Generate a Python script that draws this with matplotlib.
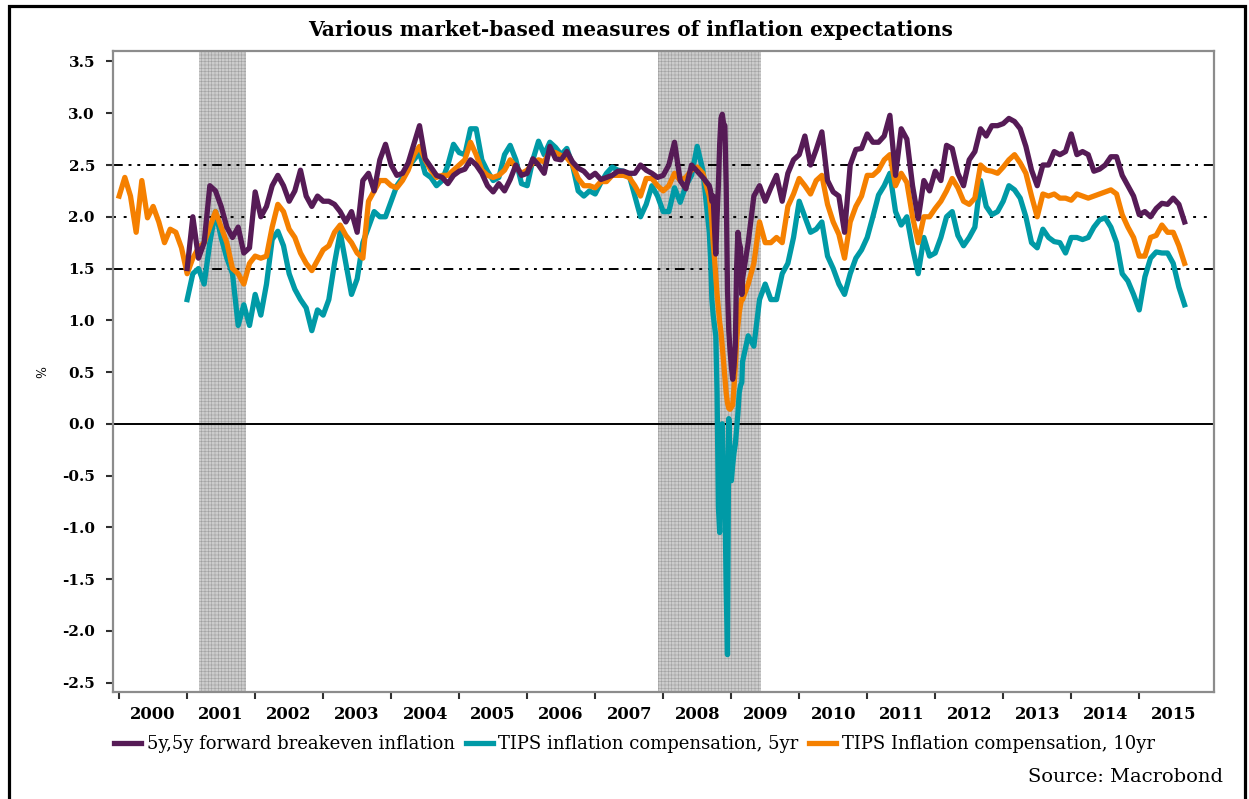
import numpy as np
import pandas as pd
import matplotlib
matplotlib.use('Agg')
import matplotlib.pyplot as plt
from matplotlib.patches import Rectangle

plt.rcParams['font.family'] = 'DejaVu Serif'
plt.rcParams['axes.unicode_minus'] = False
plt.rcParams['hatch.linewidth'] = 0.4

# ---- data (monthly readings, start of month) ----
# TIPS inflation compensation, 10yr : Jan 2000 - Aug 2008
ten_pre = [2.2, 2.38, 2.2, 1.85, 2.35, 1.99, 2.1, 1.95, 1.75, 1.88, 1.85, 1.7,
           1.45, 1.6, 1.7, 1.75, 1.9, 2.05, 1.9, 1.75, 1.5, 1.45, 1.35, 1.55,
           1.62, 1.6, 1.62, 1.9, 2.12, 2.05, 1.88, 1.8, 1.65, 1.55, 1.48, 1.58,
           1.68, 1.72, 1.85, 1.92, 1.82, 1.75, 1.65, 1.6, 2.15, 2.25, 2.35, 2.35,
           2.3, 2.28, 2.35, 2.45, 2.6, 2.68, 2.55, 2.45, 2.38, 2.4, 2.4, 2.45,
           2.5, 2.55, 2.72, 2.6, 2.45, 2.4, 2.38, 2.4, 2.45, 2.55, 2.48, 2.42,
           2.45, 2.52, 2.55, 2.53, 2.63, 2.62, 2.59, 2.57, 2.5, 2.37, 2.3, 2.3,
           2.28, 2.34, 2.34, 2.4, 2.4, 2.4, 2.38, 2.3, 2.2, 2.37, 2.37, 2.3,
           2.25, 2.3, 2.42, 2.35, 2.38, 2.45, 2.48, 2.42]
# Mar 2009 - Sep 2015
ten_post = [1.2, 1.35, 1.55, 1.95, 1.75, 1.75, 1.8, 1.75, 2.1, 2.22,
            2.37, 2.3, 2.22, 2.35, 2.4, 2.12, 1.95, 1.83, 1.6, 1.95, 2.1, 2.2,
            2.4, 2.4, 2.45, 2.55, 2.6, 2.3, 2.42, 2.33, 2.0, 1.75, 2.0, 2.0,
            2.08, 2.15, 2.25, 2.37, 2.28, 2.15, 2.12, 2.18, 2.5, 2.45, 2.44, 2.42,
            2.48, 2.55, 2.6, 2.52, 2.42, 2.2, 2.0, 2.22, 2.2, 2.22, 2.18, 2.18,
            2.16, 2.22, 2.2, 2.18, 2.2, 2.22, 2.24, 2.26, 2.22, 2.02, 1.9, 1.8,
            1.62, 1.62, 1.8, 1.82, 1.92, 1.85, 1.85, 1.72, 1.55]

# 5y,5y forward breakeven inflation : Jan 2001 - Aug 2008
fwd_pre = [1.5, 2.0, 1.6, 1.75, 2.3, 2.25, 2.1, 1.9, 1.8, 1.9, 1.65, 1.7,
           2.24, 2.0, 2.1, 2.3, 2.4, 2.3, 2.15, 2.25, 2.45, 2.2, 2.1, 2.2,
           2.15, 2.15, 2.12, 2.05, 1.95, 2.05, 1.85, 2.35, 2.42, 2.25, 2.55, 2.7,
           2.5, 2.4, 2.42, 2.52, 2.7, 2.88, 2.56, 2.48, 2.4, 2.38, 2.32, 2.4,
           2.44, 2.46, 2.55, 2.5, 2.42, 2.3, 2.24, 2.32, 2.25, 2.36, 2.5, 2.4,
           2.42, 2.56, 2.5, 2.42, 2.68, 2.56, 2.55, 2.63, 2.53, 2.47, 2.44, 2.38,
           2.42, 2.36, 2.38, 2.4, 2.44, 2.44, 2.42, 2.42, 2.5, 2.45, 2.42, 2.38,
           2.4, 2.5, 2.72, 2.35, 2.27, 2.5, 2.44, 2.38]
fwd_post = [1.4, 1.75, 2.2, 2.3, 2.15, 2.28, 2.4, 2.15, 2.42, 2.55,
            2.6, 2.78, 2.5, 2.65, 2.82, 2.35, 2.24, 2.2, 1.85, 2.5, 2.65, 2.66,
            2.8, 2.72, 2.72, 2.78, 2.98, 2.4, 2.85, 2.75, 2.3, 1.98, 2.35, 2.25,
            2.44, 2.35, 2.69, 2.66, 2.42, 2.3, 2.55, 2.63, 2.85, 2.78, 2.88, 2.88,
            2.9, 2.95, 2.92, 2.85, 2.68, 2.45, 2.3, 2.5, 2.5, 2.63, 2.6, 2.63,
            2.8, 2.6, 2.63, 2.6, 2.44, 2.46, 2.5, 2.58, 2.58, 2.4, 2.3, 2.2,
            2.02, 2.05, 2.0, 2.08, 2.13, 2.12, 2.18, 2.12, 1.95]

# TIPS inflation compensation, 5yr : Jan 2001 - Aug 2008
five_pre = [1.2, 1.45, 1.5, 1.35, 1.75, 2.05, 1.8, 1.6, 1.45, 0.95, 1.15, 0.95,
            1.25, 1.05, 1.35, 1.78, 1.86, 1.72, 1.45, 1.3, 1.2, 1.12, 0.9, 1.1,
            1.05, 1.2, 1.55, 1.85, 1.55, 1.25, 1.4, 1.75, 1.9, 2.05, 2.0, 2.0,
            2.15, 2.3, 2.38, 2.48, 2.55, 2.62, 2.42, 2.38, 2.3, 2.35, 2.5, 2.7,
            2.62, 2.6, 2.85, 2.85, 2.55, 2.44, 2.35, 2.38, 2.6, 2.69, 2.55, 2.32,
            2.3, 2.55, 2.73, 2.6, 2.72, 2.67, 2.6, 2.66, 2.5, 2.25, 2.2, 2.25,
            2.22, 2.33, 2.42, 2.48, 2.45, 2.44, 2.4, 2.2, 2.0, 2.12, 2.3, 2.2,
            2.05, 2.05, 2.28, 2.14, 2.3, 2.4, 2.68, 2.45]
five_post = [0.6, 0.85, 0.75, 1.2, 1.35, 1.2, 1.2, 1.45, 1.55, 1.8,
             2.15, 2.0, 1.85, 1.88, 1.95, 1.62, 1.5, 1.35, 1.25, 1.45, 1.6, 1.68,
             1.8, 2.0, 2.21, 2.3, 2.42, 2.05, 1.92, 2.0, 1.7, 1.45, 1.8, 1.62,
             1.65, 1.8, 2.0, 2.05, 1.82, 1.72, 1.8, 1.9, 2.35, 2.1, 2.02, 2.05,
             2.15, 2.3, 2.26, 2.18, 2.0, 1.75, 1.7, 1.88, 1.8, 1.76, 1.75, 1.65,
             1.8, 1.8, 1.78, 1.8, 1.9, 1.97, 1.99, 1.9, 1.75, 1.45, 1.38, 1.25,
             1.1, 1.42, 1.6, 1.66, 1.65, 1.65, 1.55, 1.32, 1.15]

# weekly readings through the 2008 crisis (Sep 5 2008 - Feb 27 2009)
crisis_days = pd.date_range('2008-09-05', periods=26, freq='7D')
ten_crisis = [2.2, 2.1, 1.95, 1.75, 1.6, 1.42, 1.25, 1.12, 0.98, 0.89, 0.75, 0.6, 0.45,
              0.3, 0.2, 0.15, 0.14, 0.16, 0.18, 0.35, 0.55, 0.8, 0.95, 1.07, 1.15, 1.21]
fwd_crisis = [2.3, 2.25, 2.15, 2.2, 1.9, 1.64, 2.0, 2.3, 2.7, 2.95, 2.99, 2.9, 2.88,
              2.3, 1.3, 0.9, 0.7, 0.55, 0.43, 0.55, 0.75, 1.5, 1.85, 1.75, 1.7, 1.25]
five_crisis = [1.85, 1.6, 1.2, 1.05, 0.95, 0.85, 0.3, -0.8, -1.05, -0.3, 0.0, -0.4, -0.7,
               -1.6, -2.23, 0.05, -0.3, -0.55, -0.4, -0.28, -0.2, -0.05, 0.1, 0.3, 0.37, 0.4]

recessions = [(2001.17, 2001.87), (2007.92, 2009.44)]
years = list(range(2000, 2016))


def monthly(year, month, vals):
    return year + (month - 1 + np.arange(len(vals))) / 12.0


def series(start_year, pre, crisis, post):
    days_in_year = np.where(crisis_days.is_leap_year, 366.0, 365.0)
    t_crisis = crisis_days.year + (crisis_days.dayofyear - 1) / days_in_year
    t = np.concatenate([monthly(start_year, 1, pre), np.asarray(t_crisis),
                        monthly(2009, 3, post)])
    v = np.concatenate([pre, crisis, post])
    return t, v


t_ten, v_ten = series(2000, ten_pre, ten_crisis, ten_post)
t_fwd, v_fwd = series(2001, fwd_pre, fwd_crisis, fwd_post)
t_five, v_five = series(2001, five_pre, five_crisis, five_post)

purple = '#561b56'
teal = '#009aa6'
orange = '#f58000'

fig = plt.figure(figsize=(12.49, 7.99), dpi=100)
ax = fig.add_axes([0.0905, 0.134, 0.8815, 0.802])

for a, b in recessions:
    ax.axvspan(a, b, facecolor='#cccccc', edgecolor='#a0a0a0', hatch='+++++',
               lw=0, zorder=0)

ax.axhline(2.5, color='black', lw=1.4, dashes=(5, 3, 1.5, 3, 1.5, 3), zorder=1)
ax.axhline(2.0, color='black', lw=1.4, dashes=(1.5, 4), zorder=1)
ax.axhline(1.5, color='black', lw=1.4, dashes=(5, 3, 1.5, 3, 1.5, 3), zorder=1)
ax.axhline(0.0, color='black', lw=1.4, zorder=1)

l5, = ax.plot(t_five, v_five, color=teal, lw=3.8, zorder=2,
              label='TIPS inflation compensation, 5yr')
l10, = ax.plot(t_ten, v_ten, color=orange, lw=3.8, zorder=3,
               label='TIPS Inflation compensation, 10yr')
lf, = ax.plot(t_fwd, v_fwd, color=purple, lw=3.8, zorder=4,
              label='5y,5y forward breakeven inflation')

ax.set_xlim(1999.91, 2016.10)
ax.set_ylim(-2.59, 3.6)

yt = np.arange(-2.5, 3.51, 0.5)
ax.set_yticks(yt)
ax.set_yticklabels([f'{v:.1f}' for v in yt], fontweight='bold', fontsize=11)
ax.set_xticks(years)
ax.set_xticklabels([])
ax.set_xticks([y + 0.5 for y in years], minor=True)
ax.set_xticklabels([str(y) for y in years], minor=True, fontweight='bold', fontsize=11.8)
ax.tick_params(axis='x', which='major', length=5, width=1.5, color='#303030', direction='out')
ax.tick_params(axis='x', which='minor', length=0, pad=10)
ax.tick_params(axis='y', length=5, width=1.5, color='#303030', pad=8)

for s in ax.spines.values():
    s.set_color('#8c8c8c')
    s.set_linewidth(1.6)

ax.set_ylabel('%', fontsize=9)
ax.yaxis.set_label_coords(-0.058, 0.5)

fig.text(0.505, 0.963, 'Various market-based measures of inflation expectations',
         ha='center', va='center', fontsize=14.5, fontweight='bold')

fig.legend(handles=[lf, l5, l10], loc='center', bbox_to_anchor=(0.508, 0.069),
           ncol=3, frameon=False, fontsize=13, handlelength=1.5,
           handletextpad=0.3, columnspacing=0.6)

fig.text(0.979, 0.027, 'Source: Macrobond', ha='right', va='center', fontsize=14)

fig.patches.append(Rectangle((0.0072, -0.05), 0.9896, 1.0419, transform=fig.transFigure,
                             fill=False, lw=2.3, edgecolor='black'))

fig.savefig('out.png', dpi=100)
